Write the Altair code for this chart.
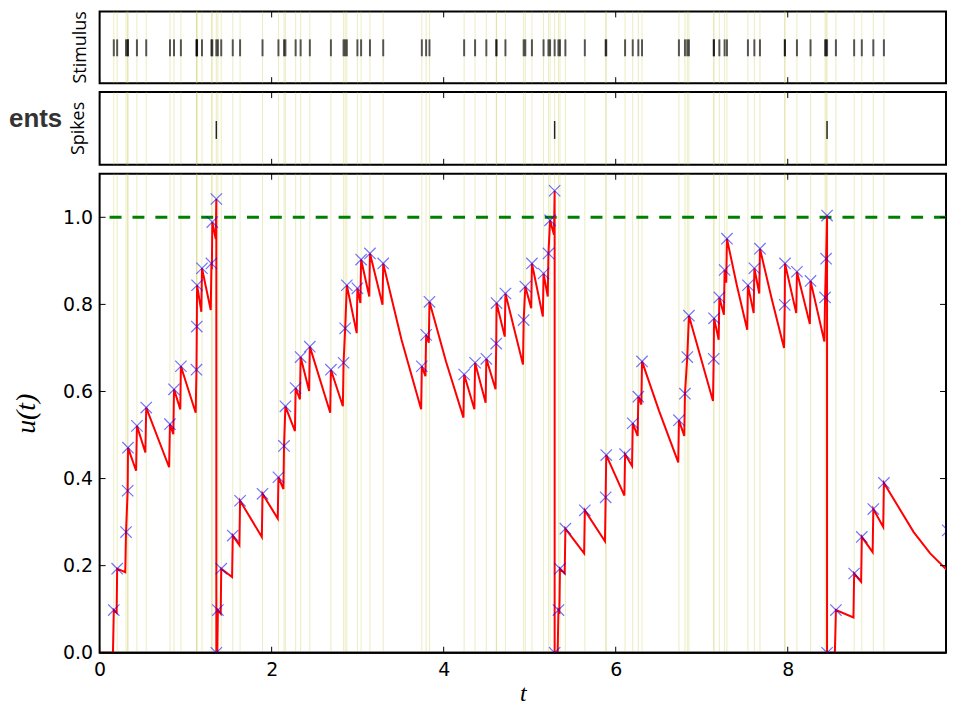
import altair as alt
import pandas as pd

# ---------------- data ----------------
# stimulus arrival times and u(t) right after each arrival (blue crosses)
stim_t = [0.165, 0.204, 0.307, 0.326, 0.330, 0.434, 0.542, 0.818, 0.865, 0.945,
          1.126, 1.130, 1.133, 1.190, 1.300, 1.310, 1.357, 1.375, 1.414, 1.548,
          1.633, 1.894, 2.079, 2.144, 2.160, 2.279, 2.337, 2.444, 2.689, 2.836,
          2.855, 2.874, 2.997, 3.040, 3.143, 3.297, 3.746, 3.796, 3.835, 4.238,
          4.365, 4.496, 4.611, 4.615, 4.718, 4.930, 4.949, 5.026, 5.161, 5.218,
          5.237, 5.290, 5.334, 5.352, 5.415, 5.641, 5.883, 5.890, 6.109, 6.198,
          6.263, 6.306, 6.735, 6.805, 6.832, 6.851, 7.139, 7.143, 7.205, 7.266,
          7.293, 7.537, 7.612, 7.677, 7.965, 7.968, 8.107, 8.265, 8.434, 8.446,
          8.457, 8.560, 8.772, 8.861, 8.995, 9.118]
stim_u = [0.098, 0.193, 0.277, 0.372, 0.471, 0.521, 0.563, 0.525, 0.605, 0.658,
          0.650, 0.749, 0.844, 0.883, 0.894, 0.989, 1.042, 0.098, 0.193, 0.269,
          0.349, 0.365, 0.403, 0.475, 0.566, 0.608, 0.679, 0.703, 0.650, 0.666,
          0.745, 0.844, 0.837, 0.903, 0.917, 0.894, 0.658, 0.730, 0.806, 0.639,
          0.666, 0.675, 0.710, 0.803, 0.825, 0.764, 0.841, 0.894, 0.871, 0.917,
          0.993, 1.061, 0.098, 0.193, 0.285, 0.327, 0.357, 0.454, 0.456, 0.527,
          0.588, 0.669, 0.534, 0.595, 0.679, 0.774, 0.675, 0.768, 0.816, 0.879,
          0.951, 0.844, 0.883, 0.928, 0.799, 0.894, 0.875, 0.854, 0.816, 0.905,
          1.004, 0.098, 0.182, 0.266, 0.330, 0.390]

# output spikes (reset to 0)
spike_t = [1.357, 5.290, 8.457]
reset_u = [0.0, 0.0, 0.0]

# last sample at the right edge
end_t = [9.860]
end_u = [0.281]

# membrane potential trace (vertices in drawing order)
line_t = [0.000, 0.155, 0.165, 0.198, 0.204, 0.298, 0.307, 0.326, 0.330, 0.424,
          0.434, 0.532, 0.542, 0.808, 0.818, 0.857, 0.865, 0.938, 0.945, 1.117,
          1.126, 1.130, 1.133, 1.183, 1.190, 1.292, 1.300, 1.305, 1.310, 1.350,
          1.357, 1.357, 1.368, 1.375, 1.408, 1.414, 1.540, 1.548, 1.625, 1.633,
          1.886, 1.894, 2.071, 2.079, 2.137, 2.144, 2.160, 2.271, 2.279, 2.329,
          2.337, 2.436, 2.444, 2.681, 2.689, 2.828, 2.836, 2.855, 2.874, 2.989,
          2.997, 3.032, 3.040, 3.135, 3.143, 3.289, 3.297, 3.510, 3.738, 3.746,
          3.788, 3.796, 3.827, 3.835, 4.027, 4.230, 4.238, 4.357, 4.365, 4.488,
          4.496, 4.603, 4.611, 4.615, 4.710, 4.718, 4.922, 4.930, 4.949, 5.018,
          5.026, 5.153, 5.161, 5.210, 5.218, 5.237, 5.282, 5.290, 5.290, 5.325,
          5.334, 5.345, 5.352, 5.407, 5.415, 5.633, 5.641, 5.875, 5.883, 5.890,
          6.101, 6.109, 6.190, 6.198, 6.255, 6.263, 6.298, 6.306, 6.505, 6.727,
          6.735, 6.797, 6.805, 6.832, 6.851, 7.131, 7.139, 7.143, 7.197, 7.205,
          7.258, 7.266, 7.285, 7.293, 7.408, 7.529, 7.537, 7.604, 7.612, 7.669,
          7.677, 7.812, 7.957, 7.965, 7.968, 8.099, 8.107, 8.257, 8.265, 8.426,
          8.434, 8.446, 8.457, 8.457, 8.548, 8.560, 8.764, 8.772, 8.853, 8.861,
          8.987, 8.995, 9.110, 9.118, 9.464, 9.656, 9.855, 9.860]
line_u = [0.000, 0.000, 0.098, 0.092, 0.193, 0.185, 0.277, 0.372, 0.471, 0.418,
          0.521, 0.460, 0.563, 0.426, 0.525, 0.502, 0.605, 0.559, 0.658, 0.551,
          0.650, 0.749, 0.844, 0.783, 0.883, 0.787, 0.894, 0.880, 0.989, 0.950,
          1.042, 0.000, 0.000, 0.098, 0.090, 0.193, 0.174, 0.269, 0.247, 0.349,
          0.266, 0.365, 0.308, 0.403, 0.376, 0.475, 0.566, 0.509, 0.608, 0.582,
          0.679, 0.601, 0.703, 0.551, 0.650, 0.566, 0.666, 0.745, 0.844, 0.734,
          0.837, 0.803, 0.903, 0.818, 0.917, 0.799, 0.894, 0.719, 0.559, 0.658,
          0.635, 0.730, 0.712, 0.806, 0.669, 0.540, 0.639, 0.559, 0.666, 0.574,
          0.675, 0.605, 0.710, 0.803, 0.726, 0.825, 0.662, 0.764, 0.841, 0.791,
          0.894, 0.772, 0.871, 0.818, 0.917, 0.993, 0.960, 1.061, 0.000, 0.000,
          0.098, 0.095, 0.193, 0.182, 0.285, 0.228, 0.327, 0.256, 0.357, 0.454,
          0.361, 0.456, 0.429, 0.527, 0.498, 0.588, 0.570, 0.669, 0.555, 0.437,
          0.534, 0.498, 0.595, 0.679, 0.774, 0.578, 0.675, 0.768, 0.719, 0.816,
          0.776, 0.879, 0.850, 0.951, 0.844, 0.742, 0.844, 0.780, 0.883, 0.825,
          0.928, 0.814, 0.700, 0.799, 0.894, 0.780, 0.875, 0.755, 0.854, 0.715,
          0.816, 0.905, 1.004, 0.000, 0.000, 0.098, 0.081, 0.182, 0.163, 0.266,
          0.231, 0.330, 0.289, 0.390, 0.277, 0.228, 0.189, 0.281]

threshold = [1.0]
baseline_u = [0.0]
x_tick_vals = [0, 2, 4, 6, 8]
y_tick_vals = [0.2, 0.4, 0.6, 0.8, 1.0]
y_label_vals = [0.0, 0.2, 0.4, 0.6, 0.8, 1.0]

# ---------------- layout constants ----------------
T_MAX = 9.84
W = 850
H_STIM, H_SPK, H_MAIN = 72, 73, 481
TICK = 6

stim_df = pd.DataFrame({"t": stim_t, "u": stim_u})
marker_df = pd.DataFrame({"t": stim_t + spike_t + end_t,
                          "u": stim_u + reset_u + end_u})
line_df = pd.DataFrame({"i": list(range(len(line_t))), "t": line_t, "u": line_u})
spike_df = pd.DataFrame({"t": spike_t})
thr_df = pd.DataFrame({"u": threshold})
base_df = pd.DataFrame({"u": baseline_u})
xt_df = pd.DataFrame({"t": x_tick_vals})
yt_df = pd.DataFrame({"u": y_tick_vals})

xs = alt.Scale(domain=[0, T_MAX], nice=False, zero=False)
ys = alt.Scale(domain=[0, 1.1], nice=False, zero=False)

YELLOW = "#c8c850"


def xnone():
    return alt.X("t:Q", scale=xs, axis=None)


def frame_xticks(h, xenc):
    top = alt.Chart(xt_df).mark_rule(color="black", strokeWidth=1).encode(
        x=xenc, y=alt.value(0), y2=alt.value(TICK))
    bot = alt.Chart(xt_df).mark_rule(color="black", strokeWidth=1).encode(
        x=xenc, y=alt.value(h), y2=alt.value(h - TICK))
    return [top, bot]


def side_title(text, h, pad):
    return alt.Chart(pd.DataFrame({"lbl": [text]})).mark_text(
        angle=270, font="Open Sans", fontSize=18, align="center",
        baseline="bottom", color="black"
    ).encode(text="lbl:N", x=alt.value(-pad), y=alt.value(h / 2))


# ---- Stimulus panel ----
stim_yel = alt.Chart(stim_df).mark_rule(color=YELLOW, strokeWidth=1, opacity=0.35).encode(x=xnone())
stim_ras = alt.Chart(stim_df).mark_rule(color="black", strokeWidth=2, opacity=0.65).encode(
    x=xnone(), y=alt.value(28), y2=alt.value(45))
stim_panel = alt.layer(
    stim_yel, stim_ras, *frame_xticks(H_STIM, xnone()), side_title("Stimulus", H_STIM, 10)
).properties(width=W, height=H_STIM)

# ---- Spikes panel ----
spk_yel = alt.Chart(stim_df).mark_rule(color=YELLOW, strokeWidth=1, opacity=0.35).encode(x=xnone())
spk_ras = alt.Chart(spike_df).mark_rule(color="black", strokeWidth=1.5, opacity=0.85).encode(
    x=xnone(), y=alt.value(29), y2=alt.value(47))
ents = alt.Chart(pd.DataFrame({"lbl": ["ents"]})).mark_text(
    font="Liberation Sans", fontWeight="bold", fontSize=26, color="#333333",
    align="left", baseline="alphabetic"
).encode(text="lbl:N", x=alt.value(-91), y=alt.value(35))
spk_panel = alt.layer(
    spk_yel, spk_ras, *frame_xticks(H_SPK, xnone()), side_title("Spikes", H_SPK, 12), ents
).properties(width=W, height=H_SPK)

# ---- main u(t) panel ----
ax_x = alt.Axis(values=x_tick_vals, format="d", labelFont="DejaVu Sans", labelFontSize=19,
                labelColor="black", labelPadding=8, labelFlush=False, ticks=False, tickSize=0,
                domain=False, grid=False, title="t", titleFont="Liberation Serif",
                titleFontStyle="italic", titleFontWeight="normal", titleFontSize=24,
                titleColor="black", titlePadding=2)
ax_y = alt.Axis(values=y_label_vals, format=".1f", labelFont="DejaVu Sans", labelFontSize=19,
                labelColor="black", labelPadding=7, ticks=False, tickSize=0, domain=False,
                grid=False, title="u(t)", titleFont="Liberation Serif", titleFontStyle="italic",
                titleFontWeight="normal", titleFontSize=28, titleColor="black", titlePadding=22)

XM = alt.X("t:Q", scale=xs, axis=ax_x)
YM = alt.Y("u:Q", scale=ys, axis=ax_y)

main_yel = alt.Chart(stim_df).mark_rule(color=YELLOW, strokeWidth=1, opacity=0.35).encode(x=XM)
main_thr = alt.Chart(thr_df).mark_rule(color="green", strokeWidth=3, strokeDash=[12, 11]).encode(y=YM)
main_line = alt.Chart(line_df).mark_line(color="red", strokeWidth=2, clip=True).encode(
    x=XM, y=YM, order="i:Q")
main_base = alt.Chart(base_df).mark_rule(color="black", strokeWidth=2).encode(y=YM)
main_pts = alt.Chart(marker_df).mark_point(
    shape="M-1,-1L1,1M1,-1L-1,1", size=130, filled=False, color="#0000ff",
    strokeWidth=1.2, opacity=0.55, clip=True).encode(x=XM, y=YM)
main_xt = frame_xticks(H_MAIN, XM)
yt_left = alt.Chart(yt_df).mark_rule(color="black", strokeWidth=1).encode(
    y=YM, x=alt.value(0), x2=alt.value(TICK))
yt_right = alt.Chart(yt_df).mark_rule(color="black", strokeWidth=1).encode(
    y=YM, x=alt.value(W - TICK), x2=alt.value(W))

main_panel = alt.layer(
    main_yel, main_thr, main_line, main_base, main_pts, *main_xt, yt_left, yt_right
).properties(width=W, height=H_MAIN)

chart = alt.vconcat(stim_panel, spk_panel, main_panel, spacing=9, bounds="flush").properties(
    padding={"left": 0, "top": 0, "right": 0, "bottom": -7}
).configure_view(stroke="black", strokeWidth=2)

chart.save("out.html", embed_options={"renderer": "svg", "actions": False})
